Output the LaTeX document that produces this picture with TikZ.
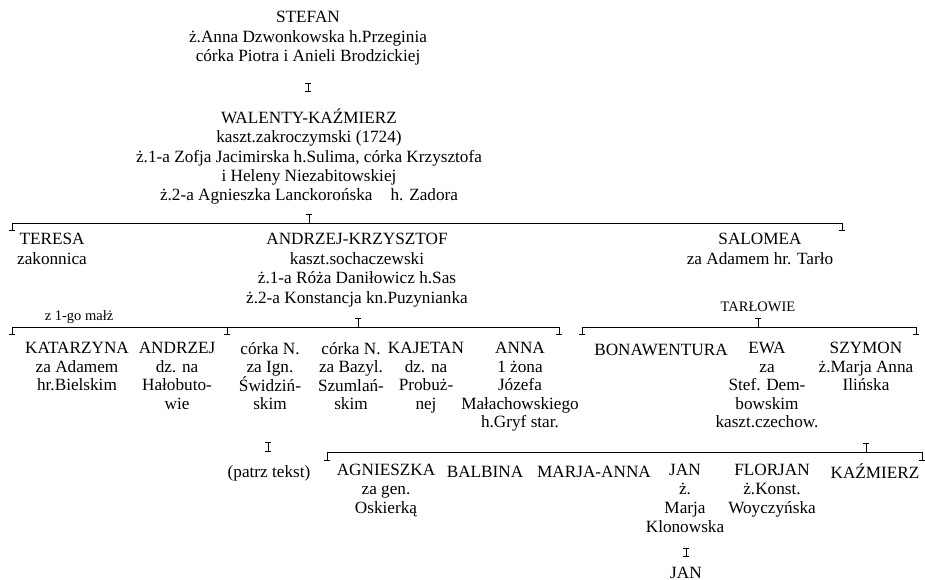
\documentclass[tikz,border=0pt]{standalone}
\usepackage{fontspec}
\setmainfont{Liberation Serif}
\usetikzlibrary{arrows.meta}
\begin{document}
\begin{tikzpicture}[x=1pt,y=-1pt,
  txt/.style={font=\fontsize{17.2}{19.4}\selectfont, align=center, inner sep=0pt, anchor=north, execute at begin node=\strut},
  txtb/.style={font=\fontsize{17.2}{18.6}\selectfont, align=center, inner sep=0pt, anchor=north, execute at begin node=\strut},
  txtc/.style={font=\fontsize{17.2}{19.2}\selectfont, align=center, inner sep=0pt, anchor=north, execute at begin node=\strut},
  one/.style={font=\fontsize{17.2}{19.4}\selectfont, inner sep=0pt, anchor=base},
  small/.style={font=\fontsize{14.5}{17}\selectfont, inner sep=0pt, anchor=base},
  ln/.style={line width=1pt},
  ends/.style={ln,{Bar[width=6pt]}-{Bar[width=6pt]}},
  up/.style={ln,-{Bar[width=6pt]}}]
\useasboundingbox (0,0) rectangle (925,580);

% generation 1
\node[txt] (stefan) at (308,11.4) {STEFAN\\ż.Anna Dzwonkowska h.Przeginia\\córka Piotra i Anieli Brodzickiej};
\coordinate (i1t) at (308,83);
\coordinate (i1b) at (308,92);
\draw[ends] (i1t) -- (i1b);

% generation 2
\node[txt] (walenty) at (309,108.4) {WALENTY-KAŹMIERZ\\kaszt.zakroczymski (1724)\\ż.1-a Zofja Jacimirska h.Sulima, córka Krzysztofa\\i Heleny Niezabitowskiej\\ż.2-a Agnieszka Lanckorońska\hspace{0.8em} h. Zadora};

\coordinate (m1) at (12,231);
\coordinate (m2) at (12,223);
\coordinate (m3) at (842,223);
\coordinate (m4) at (842,231);
\coordinate (mt) at (309,223);
\coordinate (mtt) at (309,214);
\draw[ends] (m1) -- (m2) -- (m3) -- (m4);
\draw[up] (mt) -- (mtt);

% generation 3
\node[txt] (teresa) at (52,233.4) {TERESA\\zakonnica};
\node[txt] (andrzejk) at (357,233.4) {ANDRZEJ-KRZYSZTOF\\kaszt.sochaczewski\\ż.1-a Róża Daniłowicz h.Sas\\ż.2-a Konstancja kn.Puzynianka};
\node[txt] (salomea) at (760,233.4) {SALOMEA\\za Adamem hr. Tarło};

\node[small] (malz) at (79,320) {z 1-go małż};
\node[small] (tarlowie) at (758,311) {TARŁOWIE};

% left family line
\coordinate (a1) at (12,335);
\coordinate (a2) at (12,327);
\coordinate (a3) at (559,327);
\coordinate (a4) at (559,335);
\coordinate (am) at (227,327);
\coordinate (amb) at (227,335);
\coordinate (at) at (358,327);
\coordinate (att) at (358,318);
\draw[ends] (a1) -- (a2) -- (a3) -- (a4);
\draw[up] (am) -- (amb);
\draw[up] (at) -- (att);

% right family line
\coordinate (b1) at (582,335);
\coordinate (b2) at (582,327);
\coordinate (b3) at (916,327);
\coordinate (b4) at (916,335);
\coordinate (bt) at (758,327);
\coordinate (btt) at (758,318);
\draw[ends] (b1) -- (b2) -- (b3) -- (b4);
\draw[up] (bt) -- (btt);

% generation 4
\node[txtb] (katarzyna) at (77,342) {KATARZYNA\\za Adamem\\hr.Bielskim};
\node[txtb] (andrzej) at (177,342) {ANDRZEJ\\dz. na\\Hałobuto-\\wie};
\node[txtb] (corka1) at (270,342) {córka N.\\za Ign.\\Świdziń-\\skim};
\node[txtb] (corka2) at (351,342) {córka N.\\za Bazyl.\\Szumlań-\\skim};
\node[txtb] (kajetan) at (426,342) {KAJETAN\\dz. na\\Probuż-\\nej};
\node[txtb] (anna) at (520,342) {ANNA\\1 żona\\Józefa\\Małachowskiego\\h.Gryf star.};
\node[txtb] (bonaw) at (661,342) {BONAWENTURA};
\node[txtb] (ewa) at (767,342) {EWA\\za\\Stef. Dem-\\bowskim\\kaszt.czechow.};
\node[txtb] (szymon) at (866,342) {SZYMON\\ż.Marja Anna\\Ilińska};

% under córka N.
\coordinate (i2t) at (268,442);
\coordinate (i2b) at (268,452);
\draw[ends] (i2t) -- (i2b);
\node[one] (patrz) at (269,477) {(patrz tekst)};

% Szymon's line
\coordinate (c1) at (327,461);
\coordinate (c2) at (327,452);
\coordinate (c3) at (922,452);
\coordinate (c4) at (922,461);
\coordinate (ct) at (866,452);
\coordinate (ctt) at (866,443);
\draw[ends] (c1) -- (c2) -- (c3) -- (c4);
\draw[up] (ct) -- (ctt);

% generation 5
\node[txtc] (agnieszka) at (386,463.6) {AGNIESZKA\\za gen.\\Oskierką};
\node[txtc] (balbina) at (485,463.6) {BALBINA};
\node[txtc] (marjaanna) at (594,463.6) {MARJA-ANNA};
\node[txtc] (jan) at (685,463.6) {JAN\\ż.\\Marja\\Klonowska};
\node[txtc] (florjan) at (772,463.6) {FLORJAN\\ż.Konst.\\Woyczyńska};
\node[txtc] (kazmierz) at (875,463.6) {KAŹMIERZ};

\coordinate (i3t) at (686,548);
\coordinate (i3b) at (686,557);
\draw[ends] (i3t) -- (i3b);
\node[one] (jan2) at (686,578) {JAN};
\end{tikzpicture}
\end{document}
